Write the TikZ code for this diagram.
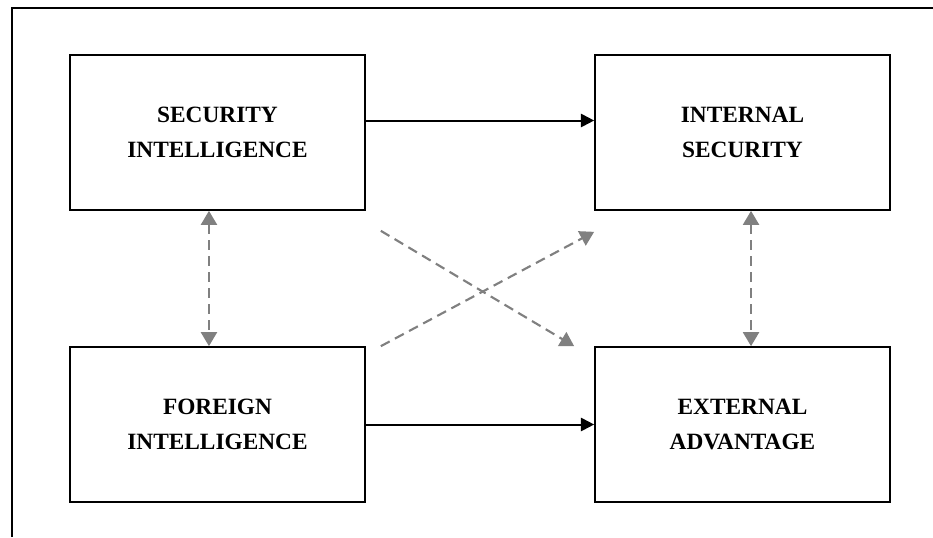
\documentclass[tikz,border=0pt]{standalone}
\usepackage{fontspec}
\setmainfont{Liberation Serif}
\usetikzlibrary{calc}
\usetikzlibrary{positioning}
\usetikzlibrary{arrows.meta}
\definecolor{arrowgray}{RGB}{128,128,128}

\begin{document}
\begin{tikzpicture}[x=0.75pt,y=-0.75pt]
		\tikzstyle{Box} = [draw=black, line width=1.5pt, minimum width=221pt, minimum height=116pt, align=center, font=\bfseries\fontsize{17.5}{26}\selectfont]
		\tikzstyle{Flow} = [line width=1.5pt, -{Triangle[length=10pt,width=10pt]}]
		\tikzstyle{Link} = [line width=1.6pt, arrowgray, dash pattern=on 7.5pt off 4.5pt, {Triangle[length=10.5pt,width=12pt]}-{Triangle[length=10.5pt,width=12pt]}]
		\tikzstyle{Cross} = [line width=1.6pt, arrowgray, dash pattern=on 7.5pt off 4.5pt, -{Triangle[length=10.5pt,width=12pt]}]

		\useasboundingbox (0,0) rectangle (933,537);

		%Draw frame
		\draw[line width=1.5pt] (12,537) -- (12,8) -- (933,8);

		%Draw boxes
		\node[Box] (SI) at (217.5,132.5) {SECURITY\\INTELLIGENCE};
		\node[Box] (IS) at ($(SI) + (525,0)$) {INTERNAL\\SECURITY};
		\node[Box] (FI) at ($(SI) + (0,292)$) {FOREIGN\\INTELLIGENCE};
		\node[Box] (EA) at ($(FI) + (525,0)$) {EXTERNAL\\ADVANTAGE};

		%Draw solid arrows
		\draw[Flow] ([yshift=9pt]SI.east) -- ([yshift=9pt]IS.west);
		\draw[Flow] (FI.east) -- (EA.west);

		%Draw dashed links
		\draw[Link] ([xshift=-6.4pt]SI.south) -- ([xshift=-6.4pt]FI.north);
		\draw[Link] ([xshift=6.4pt]IS.south) -- ([xshift=6.4pt]EA.north);
		\draw[Cross] ($(SI.south east) + (15,20)$) -- ($(EA.north west) + (-20,0)$);
		\draw[Cross] ($(FI.north east) + (15,0)$) -- ($(IS.south west) + (0,21)$);
	\end{tikzpicture}
\end{document}
